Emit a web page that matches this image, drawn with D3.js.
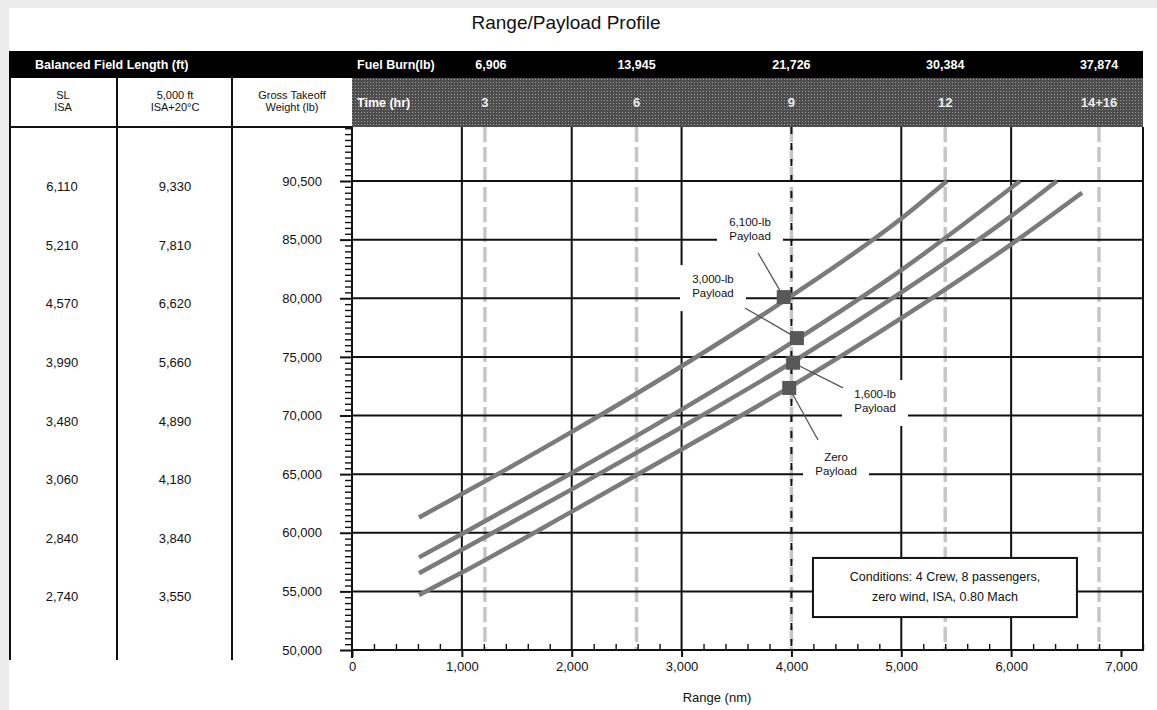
<!DOCTYPE html>
<html lang="en">
<head>
<meta charset="utf-8" />
<title>Range/Payload Profile</title>
<style>
  body { margin: 0; background: #ececec; }
  svg text { font-family: "Liberation Sans", Arial, sans-serif; fill: #111; }
  .hdr text { fill: #fff; font-weight: bold; font-size: 12.5px; }
  .colhead { font-size: 11px; text-anchor: middle; }
  .cell { font-size: 13px; text-anchor: middle; }
  .axis text { font-size: 13px; fill: #111; }
  .axis path { display: none; }
  .axis line { stroke: #111; stroke-width: 2; }
  .minor line { stroke-width: 1.4; }
  .grid { stroke: #111; stroke-width: 2; }
  .note { font-size: 11.5px; text-anchor: middle; }
</style>
</head>
<body>
<div id="chart"></div>
<script src="https://d3js.org/d3.v7.min.js"></script>
<script>
// ---- data ----
var rangeTicks = [0, 1000, 2000, 3000, 4000, 5000, 6000, 7000];
var rangeLabels = ["0", "1,000", "2,000", "3,000", "4,000", "5,000", "6,000", "7,000"];
var weightTicks = [90000, 85000, 80000, 75000, 70000, 65000, 60000, 55000, 50000];
var weightLabels = ["90,500", "85,000", "80,000", "75,000", "70,000", "65,000", "60,000", "55,000", "50,000"];
var fieldSL = ["6,110", "5,210", "4,570", "3,990", "3,480", "3,060", "2,840", "2,740"];
var fieldHot = ["9,330", "7,810", "6,620", "5,660", "4,890", "4,180", "3,840", "3,550"];
var timeLabels = ["3", "6", "9", "12", "14+16"];
var timeRange = [1210, 2590, 4000, 5400, 6800];
var fuelBurn = ["6,906", "13,945", "21,726", "30,384", "37,874"];

var payload6100 = [[610, 61300], [1000, 63300], [2000, 68600], [3000, 74200], [4000, 80200], [5000, 86800], [5416, 90000]];
var payload3000 = [[610, 57900], [1000, 59900], [2000, 65100], [3000, 70500], [4000, 76200], [5000, 82400], [6080, 90000]];
var payload1600 = [[610, 56550], [1000, 58550], [2000, 63700], [3000, 69000], [4000, 74500], [5000, 80500], [6000, 87000], [6417, 90000]];
var payloadZero = [[610, 54700], [1000, 56600], [2000, 61800], [3000, 67100], [4000, 72500], [5000, 78300], [6000, 84600], [6645, 89000]];

var payloadNames = ["6,100-lb", "3,000-lb", "1,600-lb", "Zero"];
var markerRange = [3930, 4050, 4015, 3980];
var markerWeight = [80100, 76600, 74500, 72350];
var conditions = ["Conditions: 4 Crew, 8 passengers,", "zero wind, ISA, 0.80 Mach"];

// ---- layout ----
var width = 1157, height = 710;
var plotLeft = 352, plotRight = 1143, plotTop = 127, plotBottom = 650;

var svg = d3.select("#chart").append("svg")
    .attr("width", width)
    .attr("height", height);

var defs = svg.append("defs");
var pat = defs.append("pattern")
    .attr("id", "dots")
    .attr("width", 3).attr("height", 3)
    .attr("patternUnits", "userSpaceOnUse");
pat.append("rect").attr("width", 3).attr("height", 3).attr("fill", "#4e4e4e");
pat.append("rect").attr("x", 1).attr("y", 1).attr("width", 1).attr("height", 1).attr("fill", "#9a9a9a");

svg.append("rect")
    .attr("x", 9).attr("y", 8)
    .attr("width", width - 9).attr("height", height - 8)
    .attr("fill", "#fff");

var x = d3.scaleLinear().domain([0, 7000]).range([352, 1121]);
var y = d3.scaleLinear().domain([50000, 90000]).range([650, 181]);

// title
svg.append("text")
    .attr("x", 566).attr("y", 29)
    .attr("text-anchor", "middle")
    .style("font-size", "19px")
    .text("Range/Payload Profile");

// black header bar + dotted time band
svg.append("rect")
    .attr("x", 9).attr("y", 51)
    .attr("width", plotRight - 9).attr("height", 27)
    .attr("fill", "#000");
svg.append("rect")
    .attr("x", plotLeft).attr("y", 78)
    .attr("width", plotRight - plotLeft).attr("height", plotTop - 78)
    .attr("fill", "url(#dots)");

var hdr = svg.append("g").attr("class", "hdr");
hdr.append("text").attr("x", 35).attr("y", 69).text("Balanced Field Length (ft)");
hdr.append("text").attr("x", 357).attr("y", 69).text("Fuel Burn(lb)");
hdr.selectAll(".fuel")
    .data(fuelBurn)
    .enter().append("text")
    .attr("x", function(d, i) { return x(timeRange[i]) + (i === 0 ? 6 : 0); })
    .attr("y", 69)
    .attr("text-anchor", "middle")
    .text(function(d) { return d; });
hdr.append("text").attr("x", 357).attr("y", 107).text("Time (hr)");
hdr.selectAll(".time")
    .data(timeLabels)
    .enter().append("text")
    .attr("x", function(d, i) { return x(timeRange[i]); })
    .attr("y", 107)
    .attr("text-anchor", "middle")
    .style("fill", "#eee")
    .style("font-size", "13px")
    .text(function(d) { return d; });

// left table
[10, 117, 232].forEach(function(cx) {
  svg.append("line")
      .attr("x1", cx).attr("x2", cx)
      .attr("y1", 78).attr("y2", 660)
      .attr("class", "grid");
});
svg.append("line")
    .attr("x1", 10).attr("x2", plotLeft)
    .attr("y1", plotTop).attr("y2", plotTop)
    .attr("class", "grid");

var heads = [[63, "SL", "ISA"], [175, "5,000 ft", "ISA+20\u00B0C"], [292, "Gross Takeoff", "Weight (lb)"]];
heads.forEach(function(h) {
  var t = svg.append("text").attr("class", "colhead").attr("y", 99);
  t.append("tspan").attr("x", h[0]).text(h[1]);
  t.append("tspan").attr("x", h[0]).attr("dy", 12).text(h[2]);
});

svg.selectAll(".sl")
    .data(fieldSL)
    .enter().append("text")
    .attr("class", "cell")
    .attr("x", 62)
    .attr("y", function(d, i) { return y(weightTicks[i]) + 10; })
    .text(function(d) { return d; });
svg.selectAll(".hot")
    .data(fieldHot)
    .enter().append("text")
    .attr("class", "cell")
    .attr("x", 175)
    .attr("y", function(d, i) { return y(weightTicks[i]) + 10; })
    .text(function(d) { return d; });

// time lines (grey dashed)
svg.selectAll(".tline")
    .data(timeRange)
    .enter().append("line")
    .attr("x1", function(d) { return x(d); })
    .attr("x2", function(d) { return x(d); })
    .attr("y1", plotTop).attr("y2", plotBottom)
    .attr("stroke", "#c6c6c6")
    .attr("stroke-width", 3.5)
    .attr("stroke-dasharray", "15,5");

// grid
svg.selectAll(".hgrid")
    .data(weightTicks.filter(function(d) { return d > 50000; }))
    .enter().append("line")
    .attr("class", "grid")
    .attr("x1", plotLeft).attr("x2", plotRight)
    .attr("y1", function(d) { return y(d); })
    .attr("y2", function(d) { return y(d); });
svg.selectAll(".vgrid")
    .data(rangeTicks.filter(function(d) { return d > 0 && d < 7000; }))
    .enter().append("line")
    .attr("class", "grid")
    .attr("x1", function(d) { return x(d); })
    .attr("x2", function(d) { return x(d); })
    .attr("y1", plotTop).attr("y2", plotBottom)
    .attr("stroke-dasharray", function(d) { return d === 4000 ? "7,9" : null; });
svg.append("line")
    .attr("class", "grid")
    .attr("x1", plotRight).attr("x2", plotRight)
    .attr("y1", plotTop).attr("y2", plotBottom);

// axes
var xMinor = d3.range(0, 7201, 200).filter(function(d) { return d % 1000 !== 0; });
svg.append("g")
    .attr("class", "axis minor")
    .attr("transform", "translate(0," + plotBottom + ")")
    .call(d3.axisBottom(x).tickValues(xMinor).tickSize(-6).tickFormat(""));
svg.append("g")
    .attr("class", "axis")
    .attr("transform", "translate(0," + plotBottom + ")")
    .call(d3.axisBottom(x).tickValues(rangeTicks).tickSize(7).tickPadding(5)
      .tickFormat(function(d, i) { return rangeLabels[i]; }));
svg.append("line")
    .attr("class", "grid")
    .attr("x1", plotLeft - 1).attr("x2", plotRight + 1)
    .attr("y1", plotBottom).attr("y2", plotBottom);

var yMinor = d3.range(50500, 94600, 500).filter(function(d) { return d % 5000 !== 0; });
svg.append("g")
    .attr("class", "axis minor")
    .attr("transform", "translate(" + plotLeft + ",0)")
    .call(d3.axisLeft(y).tickValues(yMinor).tickSize(7).tickFormat(""));
svg.append("g")
    .attr("class", "axis")
    .attr("transform", "translate(" + plotLeft + ",0)")
    .call(d3.axisLeft(y).tickValues(weightTicks).tickSize(12).tickPadding(18)
      .tickFormat(function(d, i) { return weightLabels[i]; }));
svg.append("line")
    .attr("class", "grid")
    .attr("x1", plotLeft).attr("x2", plotLeft)
    .attr("y1", plotTop).attr("y2", plotBottom + 8);

svg.append("text")
    .attr("x", 717).attr("y", 702)
    .attr("text-anchor", "middle")
    .style("font-size", "13px")
    .text("Range (nm)");

// payload label boxes (positions in chart units)
var labelSpots = [[3623, 85800], [3286, 80950], [4761, 71150], [4406, 65780]];
var leaderFrom = [[3696, 83860], [3577, 79170], [4469, 72350], [4242, 67910]];

labelSpots.forEach(function(p, i) {
  var cx = x(p[0]), cy = y(p[1]);
  svg.append("rect")
      .attr("x", cx - 33).attr("y", cy - 22)
      .attr("width", 66).attr("height", 46)
      .attr("fill", "#fff");
  var t = svg.append("text").attr("class", "note").attr("y", cy - 4);
  t.append("tspan").attr("x", cx).text(payloadNames[i]);
  t.append("tspan").attr("x", cx).attr("dy", 14).text("Payload");
});

// payload curves
var line = d3.line()
    .x(function(d) { return x(d[0]); })
    .y(function(d) { return y(d[1]); })
    .curve(d3.curveMonotoneX);

[payload6100, payload3000, payload1600, payloadZero].forEach(function(s) {
  svg.append("path")
      .datum(s)
      .attr("d", line)
      .attr("fill", "none")
      .attr("stroke", "#7b7b7b")
      .attr("stroke-width", 4.5);
});

// leaders and markers
markerRange.forEach(function(r, i) {
  svg.append("line")
      .attr("x1", x(leaderFrom[i][0])).attr("y1", y(leaderFrom[i][1]))
      .attr("x2", x(r)).attr("y2", y(markerWeight[i]))
      .attr("stroke", "#555")
      .attr("stroke-width", 1.3);
});
svg.selectAll(".mark")
    .data(markerRange)
    .enter().append("rect")
    .attr("x", function(d) { return x(d) - 7; })
    .attr("y", function(d, i) { return y(markerWeight[i]) - 7; })
    .attr("width", 14).attr("height", 14)
    .attr("fill", "#585858");

// conditions box
var bx0 = x(4196), bx1 = x(6599), by0 = y(57850), by1 = y(52810);
svg.append("rect")
    .attr("x", bx0).attr("y", by0)
    .attr("width", bx1 - bx0).attr("height", by1 - by0)
    .attr("fill", "#fff")
    .attr("stroke", "#111")
    .attr("stroke-width", 2);
svg.selectAll(".cond")
    .data(conditions)
    .enter().append("text")
    .attr("x", (bx0 + bx1) / 2)
    .attr("y", function(d, i) { return by0 + 23 + i * 20; })
    .attr("text-anchor", "middle")
    .style("font-size", "12.5px")
    .text(function(d) { return d; });
</script>
</body>
</html>
